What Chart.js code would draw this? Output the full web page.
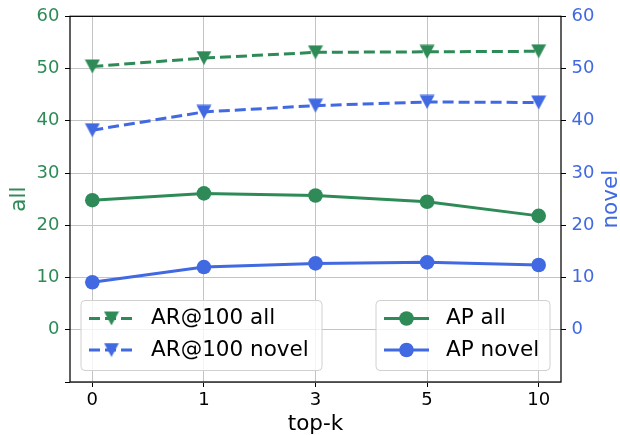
<!DOCTYPE html>
<html>
<head>
<meta charset="utf-8">
<script src="https://cdn.jsdelivr.net/npm/chart.js@4"></script>
<style>
  body { margin: 0; background: #fff; }
</style>
</head>
<body>
<canvas id="myChart" width="620" height="435"></canvas>
<script>
const topK = ['0', '1', '3', '5', '10']
const arAll = [50.4, 52.0, 53.1, 53.2, 53.3]
const arNovel = [38.2, 41.7, 42.9, 43.6, 43.5]
const apAll = [24.8, 26.1, 25.7, 24.5, 21.8]
const apNovel = [9.1, 12.0, 12.7, 12.9, 12.4]
const leftTicks = [-10, 0, 10, 20, 30, 40, 50, 60]
const rightTicks = [0, 10, 20, 30, 40, 50, 60]
const xTitle = 'top-k'
const leftTitle = 'all'
const rightTitle = 'novel'

const green = '#2e8b57'
const blue = '#4169e1'
const gridColor = '#c4c4c4'

Chart.defaults.font.family = 'DejaVu Sans'
Chart.defaults.color = '#000'

// matplotlib 'v' marker: centred on its bounding box, not the centroid
const makeTriangle = color => {
  const c = document.createElement('canvas')
  c.width = 16
  c.height = 15
  const ctx = c.getContext('2d')
  ctx.fillStyle = color
  ctx.beginPath()
  ctx.moveTo(0.5, 0.5)
  ctx.lineTo(15.5, 0.5)
  ctx.lineTo(8, 14.5)
  ctx.closePath()
  ctx.fill()
  return c
}

const toPoints = values => values.map((v, i) => ({ x: i, y: v }))

const line = (label, values, color, axis, dashed) => ({
  label: label,
  data: toPoints(values),
  yAxisID: axis,
  borderColor: color,
  backgroundColor: color,
  borderWidth: 3,
  borderDash: dashed ? [11, 5] : [],
  pointStyle: dashed ? makeTriangle(color) : 'circle',
  pointRadius: dashed ? 8 : 7.3,
  pointBorderWidth: 0,
  tension: 0
})

const data = {
  datasets: [
    line('AR@100 all', arAll, green, 'y', true),
    line('AR@100 novel', arNovel, blue, 'y2', true),
    line('AP all', apAll, green, 'y', false),
    line('AP novel', apNovel, blue, 'y2', false)
  ]
}

const drawHandle = (ctx, ds, x, y) => {
  ctx.save()
  ctx.strokeStyle = ds.borderColor
  ctx.lineWidth = 3
  ctx.setLineDash(ds.borderDash)
  ctx.beginPath()
  ctx.moveTo(x, y)
  ctx.lineTo(x + 45, y)
  ctx.stroke()
  const cx = x + 22.5
  if (ds.pointStyle === 'circle') {
    ctx.fillStyle = ds.backgroundColor
    ctx.beginPath()
    ctx.arc(cx, y, ds.pointRadius, 0, Math.PI * 2)
    ctx.fill()
  } else {
    const img = ds.pointStyle
    ctx.drawImage(img, cx - img.width / 2, y - img.height / 2)
  }
  ctx.restore()
}

const drawBox = (ctx, x, y, w, h) => {
  const r = 4
  ctx.beginPath()
  ctx.moveTo(x + r, y)
  ctx.arcTo(x + w, y, x + w, y + h, r)
  ctx.arcTo(x + w, y + h, x, y + h, r)
  ctx.arcTo(x, y + h, x, y, r)
  ctx.arcTo(x, y, x + w, y, r)
  ctx.closePath()
  ctx.fillStyle = 'rgba(255,255,255,0.8)'
  ctx.fill()
  ctx.strokeStyle = '#d0d0d0'
  ctx.lineWidth = 1
  ctx.stroke()
}

const framePlugin = {
  id: 'frameAndLegends',
  afterDatasetsDraw(chart) {
    const ctx = chart.ctx
    const a = chart.chartArea
    ctx.save()
    // spines
    ctx.strokeStyle = '#000'
    ctx.lineWidth = 1.25
    ctx.strokeRect(a.left, a.top, a.right - a.left, a.bottom - a.top)

    // two legends inside the plot, lower left and lower right
    const ds = chart.data.datasets
    const h = 70
    const top = a.bottom - 11.5 - h
    const boxes = [
      { x: a.left + 11, w: 241, items: [ds[0], ds[1]] },
      { x: a.right - 11 - 174, w: 174, items: [ds[2], ds[3]] }
    ]
    boxes.forEach(b => {
      drawBox(ctx, b.x, top, b.w, h)
      b.items.forEach((d, i) => {
        const y = top + 18 + i * 31.5
        drawHandle(ctx, d, b.x + 8, y)
        ctx.fillStyle = '#000'
        ctx.font = '21.5px "DejaVu Sans"'
        ctx.textBaseline = 'middle'
        ctx.textAlign = 'left'
        ctx.fillText(d.label, b.x + 70, y)
      })
    })

    // right axis title, reading bottom to top like the left one
    ctx.translate(611, (a.top + a.bottom) / 2)
    ctx.rotate(-Math.PI / 2)
    ctx.fillStyle = blue
    ctx.font = '21.5px "DejaVu Sans"'
    ctx.textAlign = 'center'
    ctx.textBaseline = 'middle'
    ctx.fillText(rightTitle, 0, 0)
    ctx.restore()
  }
}

const config = {
  type: 'line',
  data: data,
  options: {
    responsive: false,
    animation: false,
    layout: { padding: { top: 16, left: 0, right: 0, bottom: 0 } },
    plugins: { legend: { display: false }, tooltip: { enabled: false } },
    scales: {
      x: {
        type: 'linear',
        min: -0.2,
        max: 4.2,
        afterBuildTicks: ax => { ax.ticks = topK.map((_, i) => ({ value: i })) },
        afterFit: ax => { ax.height = 53 },
        ticks: { callback: v => topK[v], font: { size: 18 }, padding: 3, color: '#000' },
        grid: { color: gridColor, tickColor: '#000', tickLength: 5, lineWidth: 1 },
        border: { display: false },
        title: { display: true, text: xTitle, font: { size: 21.5, lineHeight: 1 }, padding: 0, color: '#000' }
      },
      y: {
        position: 'left',
        min: -10,
        max: 60,
        afterBuildTicks: ax => { ax.ticks = leftTicks.map(v => ({ value: v })) },
        afterFit: ax => { ax.width = 70 },
        ticks: { callback: v => (v < 0 ? '' : v), font: { size: 18 }, padding: 5.5, color: green },
        grid: { color: gridColor, tickColor: '#000', tickLength: 5, lineWidth: 1 },
        border: { display: false },
        title: { display: true, text: leftTitle, color: green, font: { size: 21.5, lineHeight: 1 }, padding: { top: 8.5, bottom: 0 } }
      },
      y2: {
        position: 'right',
        min: -10,
        max: 60,
        afterBuildTicks: ax => { ax.ticks = rightTicks.map(v => ({ value: v })) },
        afterFit: ax => { ax.width = 59 },
        ticks: { font: { size: 18 }, padding: 5.5, color: blue },
        grid: { drawOnChartArea: false, tickColor: '#000', tickLength: 5 },
        border: { display: false }
      }
    }
  },
  plugins: [framePlugin]
}

const myChart = new Chart(document.getElementById('myChart'), config)
</script>
</body>
</html>
